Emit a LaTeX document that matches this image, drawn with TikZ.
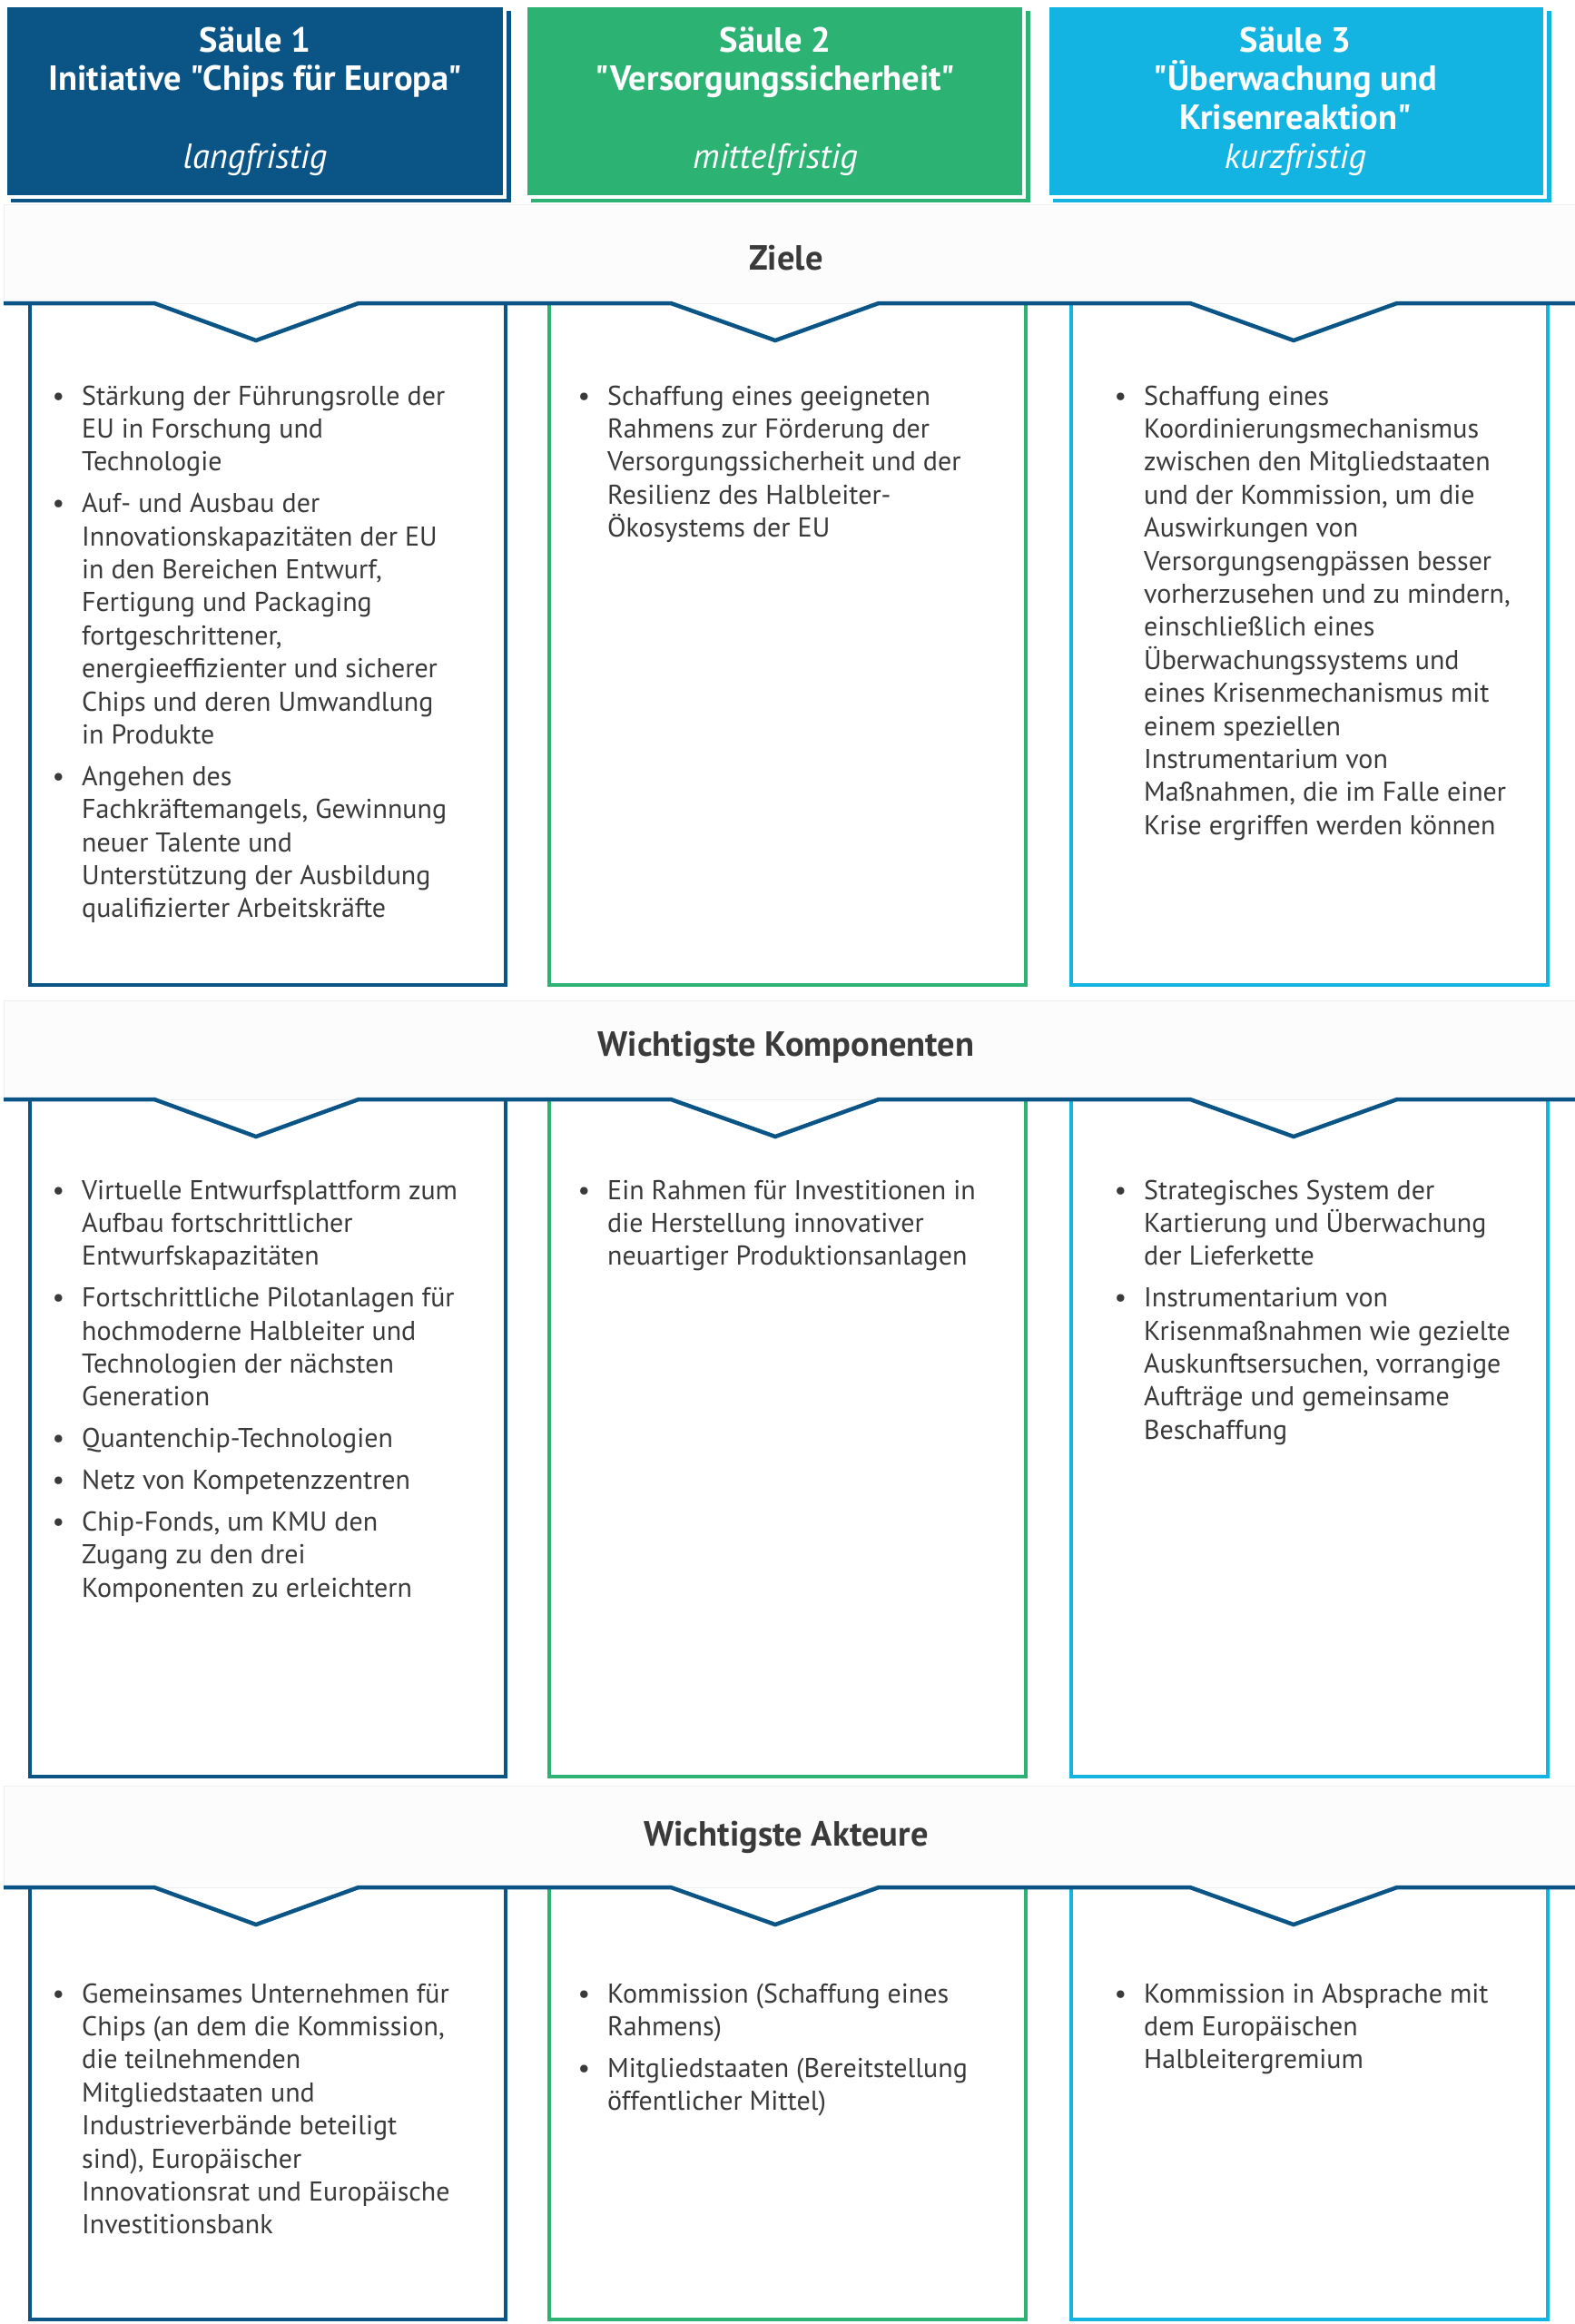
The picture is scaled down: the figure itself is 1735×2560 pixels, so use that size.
\documentclass[tikz,border=0pt]{standalone}
\usepackage{fontspec}
\setmainfont{PT Sans}[Ligatures=TeXOff]
\definecolor{cBlue}{HTML}{0B5486}
\definecolor{cGreen}{HTML}{2CB273}
\definecolor{cCyan}{HTML}{14B4E2}
\definecolor{txt}{HTML}{3A3A3A}
\definecolor{bandfill}{HTML}{FCFCFC}
\definecolor{bandline}{HTML}{EDF0F2}
\newcommand\bodyfont{\fontsize{30}{36.4}\selectfont}
\newcommand\bul{\leavevmode\llap{\textbullet\hspace{19pt}}}
\newcommand\igap{\par\vspace{9.4pt}}
\newcommand\cell[1]{\parbox[t]{600pt}{\bodyfont\raggedright\leftskip=25pt\relax #1}}
\newcommand\hdr[1]{\parbox[t]{540pt}{\centering\fontsize{38.5}{42.8}\selectfont\bfseries #1}}
\newcommand\chevline[1]{\draw[chev] (4,#1) -- (170,#1) -- (282,{#1+41}) -- (395,#1) -- (739,#1) -- (854,{#1+41}) -- (968,#1) -- (1311,#1) -- (1425,{#1+41}) -- (1539,#1) -- (1735,#1);}
\begin{document}
\begin{tikzpicture}[x=1pt,y=-1pt,
  chev/.style={cBlue,line width=4.5pt,line join=miter},
  colbox/.style={line width=3.5pt},
  band/.style={fill=bandfill,draw=bandline,line width=1pt},
  cellnode/.style={anchor=base west,inner sep=0pt,text=txt},
  hdrnode/.style={anchor=base,inner sep=0pt,text=white},
  secnode/.style={anchor=base,inner sep=0pt,text=txt,font=\fontsize{38.5}{44}\selectfont\bfseries}]
\useasboundingbox (0,0) rectangle (1735,2560);
\fill[white] (0,0) rectangle (1735,2560);
% header boxes
\fill[cBlue] (12,12) rectangle (563,223);
\filldraw[fill=cBlue,draw=white,line width=3.5pt] (6,6) rectangle (556,217);
\fill[cGreen] (585,12) rectangle (1135,223);
\filldraw[fill=cGreen,draw=white,line width=3.5pt] (579,6) rectangle (1128,217);
\fill[cCyan] (1160,12) rectangle (1709,223);
\filldraw[fill=cCyan,draw=white,line width=3.5pt] (1154,6) rectangle (1702,217);
\node[hdrnode] (h1) at (281,57) {\hdr{Säule 1\\Initiative "Chips für Europa"\\\mbox{}\\{\mdseries\itshape langfristig}}};
\node[hdrnode] (h2) at (854,57) {\hdr{Säule 2\\"Versorgungssicherheit"\\\mbox{}\\{\mdseries\itshape mittelfristig}}};
\node[hdrnode] (h3) at (1427,57) {\hdr{Säule 3\\"Überwachung und\\Krisenreaktion"\\{\mdseries\itshape kurzfristig}}};
% bands
\path[band] (4,225) rectangle (1740,334);
\path[band] (4,1102) rectangle (1740,1211);
\path[band] (4,1967) rectangle (1740,2079);
\node[secnode] (s1) at (866,297) {Ziele};
\node[secnode] (s2) at (866,1163) {Wichtigste Komponenten};
\node[secnode] (s3) at (866,2033) {Wichtigste Akteure};
% column boxes
\foreach \ya/\yb in {334/1085,1211/1957,2079/2555}{
  \draw[colbox,cBlue] (33,\ya) -- (33,\yb) -- (557,\yb) -- (557,\ya);
  \draw[colbox,cGreen] (605,\ya) -- (605,\yb) -- (1130,\yb) -- (1130,\ya);
  \draw[colbox,cCyan] (1180,\ya) -- (1180,\yb) -- (1705,\yb) -- (1705,\ya);
}
\chevline{334}
\chevline{1211}
\chevline{2079}
% row 1
\node[cellnode] (z1) at (65,446) {\cell{\bul Stärkung der Führungsrolle der\\EU in Forschung und\\Technologie\igap
\bul Auf- und Ausbau der\\Innovationskapazitäten der EU\\in den Bereichen Entwurf,\\Fertigung und Packaging\\fortgeschrittener,\\energieeffizienter und sicherer\\Chips und deren Umwandlung\\in Produkte\igap
\bul Angehen des\\Fachkräftemangels, Gewinnung\\neuer Talente und\\Unterstützung der Ausbildung\\qualifizierter Arbeitskräfte}};
\node[cellnode] (z2) at (644,446) {\cell{\bul Schaffung eines geeigneten\\Rahmens zur Förderung der\\Versorgungssicherheit und der\\Resilienz des Halbleiter-\\Ökosystems der EU}};
\node[cellnode] (z3) at (1235,446) {\cell{\bul Schaffung eines\\Koordinierungsmechanismus\\zwischen den Mitgliedstaaten\\und der Kommission, um die\\Auswirkungen von\\Versorgungsengpässen besser\\vorherzusehen und zu mindern,\\einschließlich eines\\Überwachungssystems und\\eines Krisenmechanismus mit\\einem speziellen\\Instrumentarium von\\Maßnahmen, die im Falle einer\\Krise ergriffen werden können}};
% row 2
\node[cellnode] (k1) at (65,1321) {\cell{\bul Virtuelle Entwurfsplattform zum\\Aufbau fortschrittlicher\\Entwurfskapazitäten\igap
\bul Fortschrittliche Pilotanlagen für\\hochmoderne Halbleiter und\\Technologien der nächsten\\Generation\igap
\bul Quantenchip-Technologien\igap
\bul Netz von Kompetenzzentren\igap
\bul Chip-Fonds, um KMU den\\Zugang zu den drei\\Komponenten zu erleichtern}};
\node[cellnode] (k2) at (644,1321) {\cell{\bul Ein Rahmen für Investitionen in\\die Herstellung innovativer\\neuartiger Produktionsanlagen}};
\node[cellnode] (k3) at (1235,1321) {\cell{\bul Strategisches System der\\Kartierung und Überwachung\\der Lieferkette\igap
\bul Instrumentarium von\\Krisenmaßnahmen wie gezielte\\Auskunftsersuchen, vorrangige\\Aufträge und gemeinsame\\Beschaffung}};
% row 3
\node[cellnode] (a1) at (65,2206) {\cell{\bul Gemeinsames Unternehmen für\\Chips (an dem die Kommission,\\die teilnehmenden\\Mitgliedstaaten und\\Industrieverbände beteiligt\\sind), Europäischer\\Innovationsrat und Europäische\\Investitionsbank}};
\node[cellnode] (a2) at (644,2206) {\cell{\bul Kommission (Schaffung eines\\Rahmens)\igap
\bul Mitgliedstaaten (Bereitstellung\\öffentlicher Mittel)}};
\node[cellnode] (a3) at (1235,2206) {\cell{\bul Kommission in Absprache mit\\dem Europäischen\\Halbleitergremium}};
\end{tikzpicture}
\end{document}
